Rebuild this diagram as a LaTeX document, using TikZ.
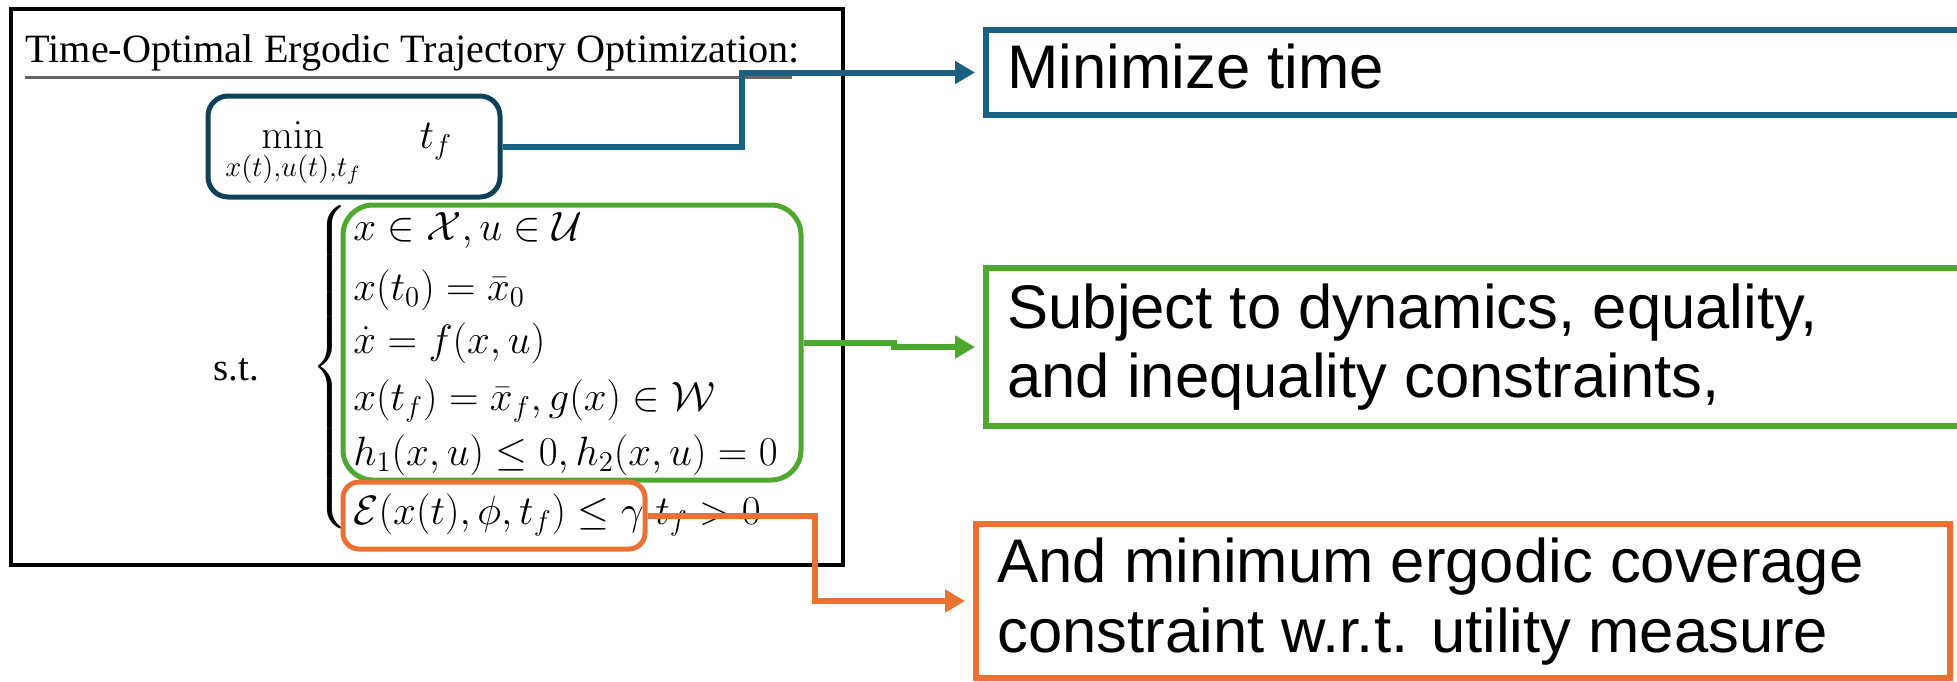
\RequirePackage{fix-cm}
\documentclass[tikz,border=0pt]{standalone}
\usepackage[no-math]{fontspec}
\setmainfont{Liberation Serif}
\newfontfamily\notefont{Liberation Sans}
\usepackage{amsmath}
\usetikzlibrary{arrows.meta}
\usetikzlibrary{fit}
\definecolor{minblue}{HTML}{0E4059}
\definecolor{timeblue}{HTML}{1A6083}
\definecolor{consgreen}{HTML}{4EA72E}
\definecolor{ergorange}{HTML}{E97132}
\newcommand{\eqsize}{\fontsize{20.5}{24}\selectfont}

\begin{document}
\begin{tikzpicture}[x=0.5pt,y=-0.5pt]
		\tikzset{hl/.style = {draw, line width=2.5pt, inner sep=0pt}}
		\tikzset{note/.style = {draw, line width=3pt, inner sep=0pt}}
		\tikzset{edge/.style = {-{Triangle[length=10pt,width=11pt]}, line width=3pt, shorten >=4pt}}
		\tikzset{eq/.style = {anchor=base west, inner sep=0pt, font=\eqsize}}
		\tikzset{txt/.style = {anchor=base west, inner sep=0pt, font={\notefont\fontsize{30.8}{35}\selectfont}}}
		\useasboundingbox (0,0) rectangle (1957,681);
		% problem statement
		\draw[line width=1.6pt] (11,9) rectangle (843,565);
		\node[anchor=base west, inner sep=0pt, font={\fontsize{20.1}{24}\selectfont}] (title) at (25,62) {Time-Optimal Ergodic Trajectory Optimization:};
		\draw[black!60, line width=1.5pt] (25,77) -- (792,77);
		\node[eq] (obj) at (225,148) {$\displaystyle\min_{x(t),u(t),t_f}\;\quad t_f$};
		\node[anchor=base west, inner sep=0pt, font={\fontsize{19.5}{23}\selectfont}] (st) at (213,380) {s.t.};
		\node[inner sep=0pt, font=\eqsize] (brace) at (331,367) {$\left\{\vcenter{\hrule height 162pt width 0pt}\right.$};
		\node[eq] (c1) at (353,240) {$x \in \mathcal{X}, u \in \mathcal{U}$};
		\node[eq] (c2) at (353,300) {$x(t_0) = \bar{x}_0$};
		\node[eq] (c3) at (353,353) {$\dot{x} = f(x,u)$};
		\node[eq] (c4) at (353,410) {$x(t_f) = \bar{x}_f, g(x) \in \mathcal{W}$};
		\node[eq] (c5) at (353,465) {$h_1(x,u) \le 0, h_2(x,u) = 0$};
		\node[eq] (c6) at (353,524) {$\mathcal{E}(x(t),\phi,t_f) \le \gamma$};
		\node[eq] (c7) at (655,524) {$t_f > 0$};
		% highlights
		\node[hl, draw=minblue, rounded corners=10pt, fit={(208,96) (500,197)}] (minbox) {};
		\node[hl, draw=consgreen, rounded corners=15pt, fit={(343,205) (801,480)}] (dynbox) {};
		\node[hl, draw=ergorange, rounded corners=8pt, fit={(343,482) (645,549)}] (ergbox) {};
		% notes
		\node[note, draw=timeblue, fit={(986,30) (1995,115)}] (timebox) {};
		\node[note, draw=consgreen, fit={(986,268) (1995,426)}] (consbox) {};
		\node[note, draw=ergorange, fit={(976,524) (1950,678)}] (covbox) {};
		\node[txt] (n1) at (1007,88) {Minimize time};
		\node[txt] (n2) at (1007,328) {Subject to dynamics, equality,};
		\node[txt] (n3) at (1007,397) {and inequality constraints,};
		\node[txt] (n4) at (997,582) {And minimum ergodic coverage};
		\node[txt] (n5) at (997,652) {constraint w.r.t. utility measure};
		% edges
		\draw[edge, timeblue] (minbox.east) -- ++(239,0) |- (timebox.west);
		\draw[edge, consgreen] (dynbox.east) -- ++(90,0) |- (consbox.west);
		\draw[edge, ergorange] (ergbox.east) -- ++(167,0) |- (covbox.west);
\end{tikzpicture}
\end{document}
